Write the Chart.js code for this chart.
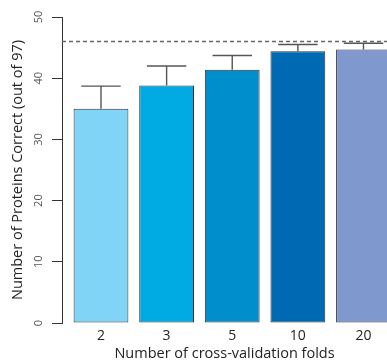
<!DOCTYPE html>
<html>
<head>
<meta charset="utf-8">
<script src="https://cdn.jsdelivr.net/npm/chart.js@4/dist/chart.umd.min.js"></script>
<style>
  html, body { margin: 0; padding: 0; background: #fff; overflow: hidden; }
  canvas { display: block; }
</style>
</head>
<body>
<canvas id="chart" width="387" height="360"></canvas>
<script>
// Cross-validation folds and mean proteins correct (out of 97)
const folds = ['2', '3', '5', '10', '20'];
const proteinsCorrect = [35.0, 38.8, 41.4, 44.4, 44.7];
const errorUp = [3.7, 3.2, 2.3, 1.1, 1.0];
const referenceLevel = 46;
const yTicks = [0, 10, 20, 30, 40, 50];

const barColors = ['#80d4f6', '#00aae2', '#008fcc', '#0069b4', '#7f99cf'];
const FONT = '"Open Sans", "DejaVu Sans", sans-serif';

// barplot-style slot positions: width 1 with 0.2 spacing
const slot = i => 0.7 + 1.2 * i;

const errorBars = {
  id: 'errorBars',
  afterDatasetsDraw(chart) {
    const meta = chart.getDatasetMeta(0);
    const y = chart.scales.y;
    const ctx = chart.ctx;
    ctx.save();
    ctx.strokeStyle = '#555';
    ctx.lineWidth = 1.4;
    meta.data.forEach((bar, i) => {
      const top = y.getPixelForValue(proteinsCorrect[i] + errorUp[i]);
      const half = bar.width * 0.36;
      ctx.beginPath();
      ctx.moveTo(bar.x, bar.y);
      ctx.lineTo(bar.x, top);
      ctx.moveTo(bar.x - half, top);
      ctx.lineTo(bar.x + half, top);
      ctx.stroke();
    });
    ctx.restore();
  }
};

const refLine = {
  id: 'refLine',
  afterDatasetsDraw(chart) {
    const { ctx, chartArea } = chart;
    const yy = chart.scales.y.getPixelForValue(referenceLevel);
    ctx.save();
    ctx.strokeStyle = '#666';
    ctx.lineWidth = 1.3;
    ctx.setLineDash([4, 3]);
    ctx.beginPath();
    ctx.moveTo(chartArea.left, yy);
    ctx.lineTo(chartArea.right, yy);
    ctx.stroke();
    ctx.restore();
  }
};

new Chart(document.getElementById('chart'), {
  type: 'bar',
  data: {
    datasets: [{
      data: proteinsCorrect.map((v, i) => ({ x: slot(i), y: v })),
      backgroundColor: barColors,
      borderColor: '#333',
      borderWidth: 1,
      borderSkipped: false,
      barPercentage: 1,
      categoryPercentage: 0.835
    }]
  },
  options: {
    responsive: false,
    devicePixelRatio: 1,
    animation: false,
    layout: { padding: { top: 17, left: 0, right: 0, bottom: 0 } },
    plugins: { legend: { display: false }, tooltip: { enabled: false } },
    scales: {
      x: {
        type: 'linear',
        offset: false,
        min: -0.013,
        max: 5.93,
        grid: { display: false, drawTicks: false },
        border: { display: false },
        afterBuildTicks: s => { s.ticks = folds.map((_, i) => ({ value: slot(i) })); },
        afterFit: s => { s.height = 37; },
        ticks: {
          autoSkip: false,
          maxRotation: 0,
          padding: 5,
          color: '#222',
          font: { family: FONT, size: 14 },
          callback: (v, i) => folds[i]
        },
        title: {
          display: true,
          text: 'Number of cross-validation folds',
          color: '#222',
          font: { family: FONT, size: 14.5, lineHeight: 0.85 },
          padding: { top: 0, bottom: 0 }
        }
      },
      y: {
        min: 0,
        max: 50,
        afterBuildTicks: s => { s.ticks = yTicks.map(v => ({ value: v })); },
        afterFit: s => { s.width = 62; },
        grid: { drawOnChartArea: false, drawTicks: true, tickLength: 10, color: '#333', lineWidth: 1 },
        border: { display: true, color: '#333', width: 1 },
        ticks: {
          minRotation: 90,
          maxRotation: 90,
          crossAlign: 'center',
          padding: 7,
          color: '#555',
          font: { family: FONT, size: 11 }
        },
        title: {
          display: true,
          text: 'Number of Proteins Correct (out of 97)',
          color: '#222',
          font: { family: FONT, size: 14.5 },
          padding: { top: 9, bottom: 0 }
        }
      }
    }
  },
  plugins: [errorBars, refLine]
});
</script>
</body>
</html>
